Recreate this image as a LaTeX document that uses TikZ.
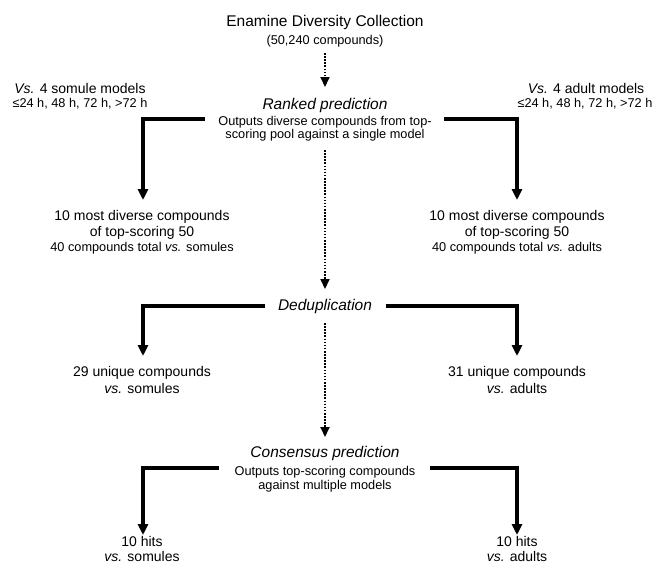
\documentclass[tikz,border=0pt]{standalone}
\usepackage{fontspec}
\setmainfont{Liberation Sans}
\usetikzlibrary{arrows.meta}
\begin{document}
\begin{tikzpicture}[x=1pt,y=-1pt,
  head/.style={font=\fontsize{15.5}{18}\selectfont\itshape, inner sep=0pt, anchor=base},
  titletxt/.style={font=\fontsize{15.5}{18}\selectfont, inner sep=0pt, anchor=base},
  midtxt/.style={font=\fontsize{14}{16}\selectfont, inner sep=0pt, anchor=base},
  smalltxt/.style={font=\fontsize{12.75}{14}\selectfont, inner sep=0pt, anchor=base},
  thickarrow/.style={line width=3.3pt, line join=miter, -{Triangle[width=10pt,length=11pt]}},
  dotarrow/.style={line width=2pt, dash pattern=on 1.6pt off 1.5pt, -{Triangle[width=9pt,length=10pt]}}]
\useasboundingbox (0,0) rectangle (654,562);

% texts
\node[titletxt] (title) at (325,27) {Enamine Diversity Collection};
\node[smalltxt] (cnt) at (325,45) {(50,240 compounds)};

\node[midtxt] (vsS) at (80,93.5) {\textit{Vs.} 4 somule models};
\node[smalltxt] (hS) at (80,107) {≤24 h, 48 h, 72 h, >72 h};
\node[midtxt] (vsA) at (586,93.5) {\textit{Vs.} 4 adult models};
\node[smalltxt] (hA) at (585,107) {≤24 h, 48 h, 72 h, >72 h};

\node[head] (rank) at (325,109) {Ranked prediction};
\node[smalltxt] (rout1) at (325,125) {Outputs diverse compounds from top-};
\node[smalltxt] (rout2) at (325,138) {scoring pool against a single model};

\node[midtxt] (divS1) at (142,220) {10 most diverse compounds};
\node[midtxt] (divS2) at (142,236) {of top-scoring 50};
\node[smalltxt] (divS3) at (142,251.5) {40 compounds total \textit{vs.} somules};
\node[midtxt] (divA1) at (517,220) {10 most diverse compounds};
\node[midtxt] (divA2) at (517,236) {of top-scoring 50};
\node[smalltxt] (divA3) at (517,251.5) {40 compounds total \textit{vs.} adults};

\node[head] (dedup) at (325,310.5) {Deduplication};

\node[midtxt] (uniS1) at (142,376.5) {29 unique compounds};
\node[midtxt] (uniS2) at (142,393) {\textit{vs.} somules};
\node[midtxt] (uniA1) at (517,376.5) {31 unique compounds};
\node[midtxt] (uniA2) at (517,393) {\textit{vs.} adults};

\node[head] (cons) at (325,457.5) {Consensus prediction};
\node[smalltxt] (cout1) at (325,475) {Outputs top-scoring compounds};
\node[smalltxt] (cout2) at (325,489) {against multiple models};

\node[midtxt] (hitS1) at (142,546.5) {10 hits};
\node[midtxt] (hitS2) at (142,561) {\textit{vs.} somules};
\node[midtxt] (hitA1) at (517,546.5) {10 hits};
\node[midtxt] (hitA2) at (517,561) {\textit{vs.} adults};

% connector end points
\coordinate (d1s) at (325,53);  \coordinate (d1e) at (325,87);
\coordinate (d2s) at (325,150); \coordinate (d2e) at (325,289);
\coordinate (d3s) at (325,323); \coordinate (d3e) at (325,437);

\coordinate (rL) at (205,119);  \coordinate (rLt) at (143,200);
\coordinate (rR) at (444,119);  \coordinate (rRt) at (517,200);
\coordinate (dL) at (265,306);  \coordinate (dLt) at (143,356);
\coordinate (dR) at (386,306);  \coordinate (dRt) at (517,356);
\coordinate (cL) at (219,468);  \coordinate (cLt) at (143,535);
\coordinate (cR) at (430,468);  \coordinate (cRt) at (517,535);

% dotted main flow
\draw[dotarrow] (d1s) -- (d1e);
\draw[dotarrow] (d2s) -- (d2e);
\draw[dotarrow] (d3s) -- (d3e);

% thick brackets
\draw[thickarrow] (rL) -| (rLt);
\draw[thickarrow] (rR) -| (rRt);
\draw[thickarrow] (dL) -| (dLt);
\draw[thickarrow] (dR) -| (dRt);
\draw[thickarrow] (cL) -| (cLt);
\draw[thickarrow] (cR) -| (cRt);
\end{tikzpicture}
\end{document}
